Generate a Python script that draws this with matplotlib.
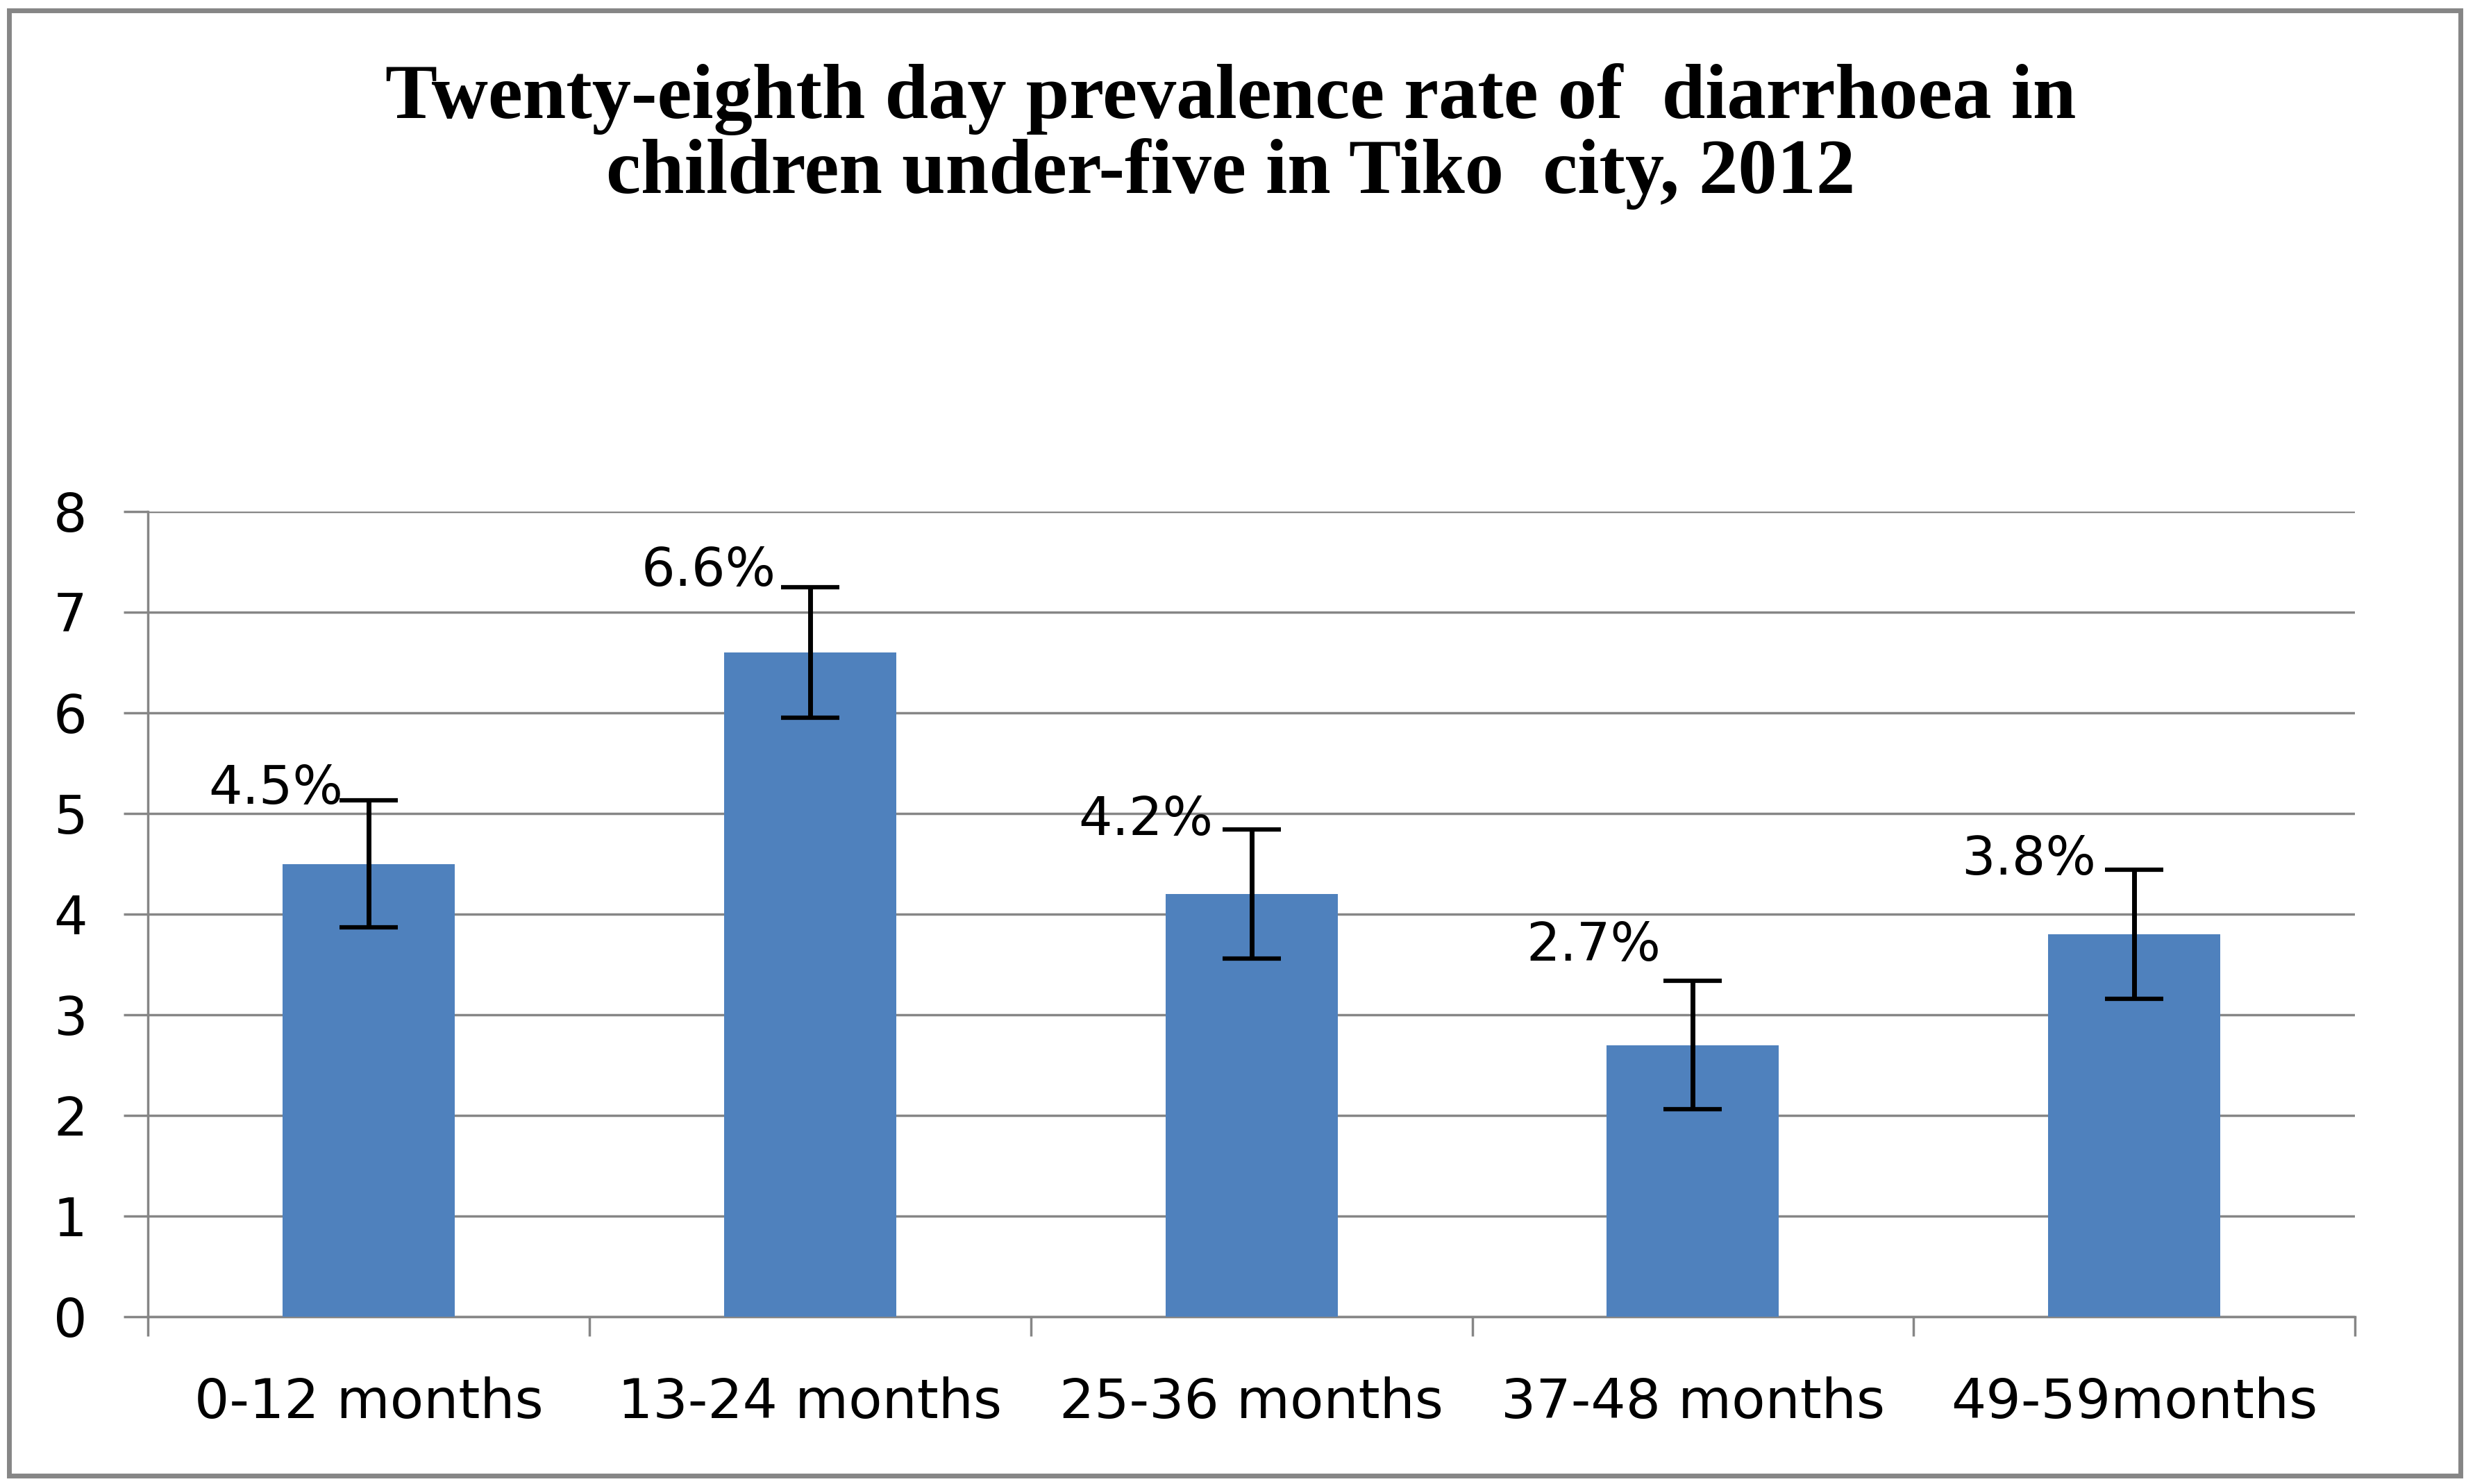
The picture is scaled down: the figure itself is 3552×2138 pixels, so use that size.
import numpy as np
import matplotlib.pyplot as plt
from matplotlib.patches import Rectangle

# ── DATA ─────────────────────────────────────────────────────
categories = ['0-12 months', '13-24 months', '25-36 months', '37-48 months', '49-59months']
prevalence = [4.5, 6.6, 4.2, 2.7, 3.8]
errors = [0.63, 0.65, 0.64, 0.64, 0.64]
bar_labels = ['4.5%', '6.6%', '4.2%', '2.7%', '3.8%']
y_ticks = [0, 1, 2, 3, 4, 5, 6, 7, 8]
title_lines = ['Twenty-eighth day prevalence rate of  diarrhoea in',
               'children under-five in Tiko  city, 2012']

# label placement tweaks (category units / value units)
label_dx = [-0.21, -0.23, -0.24, -0.225, -0.24]
label_dy = [0.11, 0.16, 0.09, 0.34, 0.10]

BAR_COLOR = '#4F81BD'
GRID_COLOR = '#868686'

# ── FIGURE ───────────────────────────────────────────────────
fig = plt.figure(figsize=(35.52, 21.38), dpi=100)
fig.patch.set_facecolor('white')

# outer chart border
fig.patches.append(Rectangle((0.0037, 0.0056), 0.994, 0.9874, transform=fig.transFigure,
                             fill=False, edgecolor=GRID_COLOR, lw=5, zorder=0))

# title (two lines, serif bold)
fig.text(0.499, 1 - 170 / 2138, title_lines[0], ha='center', va='baseline',
         fontsize=81, fontweight='bold', family='Liberation Serif')
fig.text(0.499, 1 - 278 / 2138, title_lines[1], ha='center', va='baseline',
         fontsize=81, fontweight='bold', family='Liberation Serif')

ax = fig.add_axes([0.0600, 0.1127, 0.8950, 0.5426])

x = np.arange(len(categories))
ax.bar(x, prevalence, width=0.39, color=BAR_COLOR, zorder=3)
ax.errorbar(x, prevalence, yerr=errors, fmt='none', ecolor='black',
            elinewidth=5, capsize=30, capthick=4.5, zorder=4)

for i, lab in enumerate(bar_labels):
    ax.text(x[i] + label_dx[i], prevalence[i] + errors[i] + label_dy[i], lab,
            ha='center', va='center', fontsize=55, family='DejaVu Sans', zorder=5)

ax.set_xlim(-0.5, len(categories) - 0.5)
ax.set_ylim(0, 8)
ax.set_yticks(y_ticks)
ax.set_yticklabels([str(t) for t in y_ticks])
ax.yaxis.grid(True, color=GRID_COLOR, lw=2.5, zorder=0)
ax.set_axisbelow(True)

ax.set_xticks(x)
ax.set_xticklabels(categories)
ax.set_xticks(np.arange(len(categories) + 1) - 0.5, minor=True)
ax.tick_params(axis='x', which='major', length=0, pad=62, labelsize=57)
ax.tick_params(axis='x', which='minor', length=20, width=2.5, color=GRID_COLOR)
ax.tick_params(axis='y', length=25, width=2.5, color=GRID_COLOR, pad=38, labelsize=55)

for s in ['top', 'right']:
    ax.spines[s].set_visible(False)
for s in ['left', 'bottom']:
    ax.spines[s].set_color(GRID_COLOR)
    ax.spines[s].set_linewidth(2.5)

fig.savefig('out.png', dpi=100, facecolor='white')
